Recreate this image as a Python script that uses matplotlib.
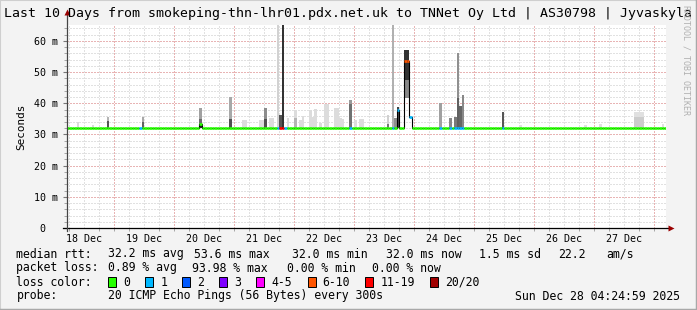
import matplotlib
matplotlib.use("Agg")
import matplotlib.pyplot as plt
from matplotlib.patches import Rectangle
from matplotlib.collections import LineCollection
from matplotlib.lines import Line2D
import numpy as np
import pandas as pd

# ---------------- data ----------------
title = "Last 10 Days from smokeping-thn-lhr01.pdx.net.uk to TNNet Oy Ltd | AS30798 | Jyvaskyla"
origin = pd.Timestamp("2025-12-19 00:00")
view_start = "2025-12-18 04:50"
view_end = "2025-12-28 04:25"
day_labels = ["18 Dec", "19 Dec", "20 Dec", "21 Dec", "22 Dec", "23 Dec", "24 Dec", "25 Dec", "26 Dec", "27 Dec"]
day_label_times = ["2025-12-18 12:00", "2025-12-19 12:00", "2025-12-20 12:00", "2025-12-21 12:00",
                   "2025-12-22 12:00", "2025-12-23 12:00", "2025-12-24 12:00", "2025-12-25 12:00",
                   "2025-12-26 12:00", "2025-12-27 12:00"]
y_ticks = [0, 10, 20, 30, 40, 50, 60]
y_tick_labels = ["0  ", "10 m", "20 m", "30 m", "40 m", "50 m", "60 m"]
y_max = 65.1

# smoke (ping spread) bars: start time, length in hours, low, high (ms), shade
smoke_time = ["2025-12-18 09:00", "2025-12-18 15:00", "2025-12-18 21:00", "2025-12-18 21:00",
              "2025-12-19 11:00", "2025-12-19 11:00", "2025-12-20 10:00", "2025-12-20 10:00",
              "2025-12-20 10:00", "2025-12-20 22:00", "2025-12-20 22:00", "2025-12-21 03:00",
              "2025-12-21 10:00", "2025-12-21 12:00", "2025-12-21 12:00", "2025-12-21 14:00",
              "2025-12-21 17:00", "2025-12-21 18:00", "2025-12-21 19:00", "2025-12-21 21:00",
              "2025-12-22 00:00", "2025-12-22 00:00", "2025-12-22 02:00", "2025-12-22 03:00",
              "2025-12-22 06:00", "2025-12-22 07:00", "2025-12-22 08:00", "2025-12-22 10:00",
              "2025-12-22 12:00", "2025-12-22 16:00", "2025-12-22 18:00", "2025-12-22 19:00",
              "2025-12-22 22:00", "2025-12-22 22:00", "2025-12-23 00:00", "2025-12-23 02:00",
              "2025-12-23 13:00", "2025-12-23 13:00", "2025-12-23 15:00", "2025-12-23 16:00",
              "2025-12-23 17:00", "2025-12-23 20:00", "2025-12-23 20:00", "2025-12-24 10:00",
              "2025-12-24 14:00", "2025-12-24 16:00", "2025-12-24 17:00", "2025-12-24 17:00",
              "2025-12-24 18:00", "2025-12-24 19:00", "2025-12-25 11:00", "2025-12-25 18:00",
              "2025-12-26 20:00", "2025-12-27 02:00", "2025-12-27 16:00", "2025-12-27 16:00",
              "2025-12-28 03:00"]
smoke_hours = [1, 1, 1, 1,
               1, 1, 1, 1,
               1, 1, 1, 2,
               2, 1, 1, 2,
               1, 1, 1, 1,
               1, 1, 1, 1,
               1, 1, 1, 1,
               2, 2, 1, 1,
               1, 1, 1, 2,
               1, 1, 1, 1,
               1, 2, 2, 1,
               1, 1, 1, 1,
               1, 1, 1, 1,
               1, 1, 4, 4,
               1]
smoke_low = [32.0, 32.0, 32.0, 32.0,
             32.0, 32.0, 32.0, 32.0,
             32.0, 32.0, 32.0, 32.0,
             32.0, 32.0, 32.0, 32.0,
             32.0, 32.0, 32.0, 32.0,
             32.0, 32.0, 32.0, 32.0,
             32.0, 32.0, 32.0, 32.0,
             32.0, 32.0, 32.0, 32.0,
             32.0, 32.0, 32.0, 32.0,
             32.0, 32.0, 32.0, 32.0,
             32.0, 41.7, 47.5, 32.0,
             32.0, 32.0, 32.0, 32.0,
             32.0, 32.0, 32.0, 32.0,
             32.0, 32.0, 32.0, 32.0,
             32.0]
smoke_high = [34.0, 32.9, 35.7, 34.2,
              35.7, 34.0, 38.5, 35.0,
              33.2, 41.9, 35.0, 34.6,
              34.5, 38.4, 35.0, 35.4,
              66.0, 36.3, 66.0, 35.2,
              37.9, 35.4, 34.6, 35.8,
              37.9, 35.6, 38.2, 33.6,
              39.8, 38.4, 35.3, 34.9,
              41.1, 39.8, 34.6, 35.0,
              36.3, 33.4, 66.0, 35.2,
              38.7, 47.5, 57.1, 40.0,
              35.3, 35.6, 56.0, 41.7,
              39.1, 42.7, 37.1, 33.0,
              33.0, 33.2, 37.3, 35.6,
              33.4]
smoke_shade = ["#dadada", "#dadada", "#b4b4b4", "#555555",
               "#a8a8a8", "#606060", "#a0a0a0", "#6a6a6a",
               "#222222", "#a8a8a8", "#505050", "#dcdcdc",
               "#dcdcdc", "#8c8c8c", "#505050", "#dcdcdc",
               "#d2d2d2", "#555555", "#333333", "#dcdcdc",
               "#dcdcdc", "#b4b4b4", "#dcdcdc", "#dcdcdc",
               "#dcdcdc", "#dcdcdc", "#dcdcdc", "#dcdcdc",
               "#dcdcdc", "#dcdcdc", "#dcdcdc", "#dcdcdc",
               "#9a9a9a", "#707070", "#dcdcdc", "#dcdcdc",
               "#d0d0d0", "#777777", "#b0b0b0", "#909090",
               "#444444", "#888888", "#333333", "#a0a0a0",
               "#888888", "#7a7a7a", "#909090", "#606060",
               "#666666", "#888888", "#555555", "#e0e0e0",
               "#e0e0e0", "#e0e0e0", "#e0e0e0", "#cccccc",
               "#e0e0e0"]

# median rtt: flat level plus the hours where it (or its loss class) differs
median_level = 32.0
bins_first = "2025-12-18 04:00"
bins_last = "2025-12-28 04:00"
event_time = ["2025-12-19 10:00", "2025-12-20 10:00", "2025-12-21 17:00", "2025-12-21 18:00",
              "2025-12-21 19:00", "2025-12-21 20:00", "2025-12-22 22:00", "2025-12-23 15:00",
              "2025-12-23 17:00", "2025-12-23 20:00", "2025-12-23 21:00", "2025-12-23 22:00",
              "2025-12-24 10:00", "2025-12-24 14:00", "2025-12-24 16:00", "2025-12-24 17:00",
              "2025-12-24 18:00", "2025-12-24 19:00", "2025-12-25 11:00"]
event_median = [32.0, 33.2, 32.0, 32.0,
                32.0, 32.0, 32.0, 32.0,
                37.7, 53.6, 53.6, 35.5,
                32.0, 32.0, 32.0, 32.0,
                32.0, 32.0, 32.0]
event_loss = [1, 0, 1, 6,
              6, 1, 1, 1,
              1, 5, 5, 1,
              1, 1, 1, 1,
              1, 1, 1]

loss_labels = ["0", "1", "2", "3", "4-5", "6-10", "11-19", "20/20"]
loss_colors = ["#26ff00", "#00b8ff", "#0059ff", "#7e00ff", "#ff00ff", "#ff5500", "#ff0000", "#a10000"]

stat_rtt = ["32.2 ms avg", "53.6 ms max", "32.0 ms min", "32.0 ms now", "1.5 ms sd", "22.2", "am/s"]
stat_loss = ["0.89 % avg", "93.98 % max", "0.00 % min", "0.00 % now"]
probe_text = "20 ICMP Echo Pings (56 Bytes) every 300s"
stamp_text = "Sun Dec 28 04:24:59 2025"


def hrs(t):
    return (pd.Timestamp(t) - origin) / pd.Timedelta(hours=1)


# ---------------- figure ----------------
W, H = 697, 310
BG = "#f3f3f3"
MONO = "DejaVu Sans Mono"
fig = plt.figure(figsize=(W / 100, H / 100), dpi=100, facecolor=BG)


def fx(px):
    return px / W


def fy(py):
    return 1 - py / H


ax_l, ax_r, ax_t, ax_b = 66.5, 665.5, 25, 228
ax = fig.add_axes([fx(ax_l), fy(ax_b), (ax_r - ax_l) / W, (ax_b - ax_t) / H])
ax.set_facecolor("white")

x0, x1 = hrs(view_start), hrs(view_end)
ax.set_xlim(x0, x1)
ax.set_ylim(0, y_max)

# grid
minor_x = np.arange(np.ceil(x0 / 6) * 6, x1, 6)
major_x = np.arange(np.ceil(x0 / 24) * 24, x1, 24)
minor_y = np.arange(2, y_max, 2)
major_y = np.array(y_ticks[1:])
dot = (0, (1, 2))
for v in minor_x:
    ax.axvline(v, color="#c4c4c4", lw=0.72, ls=dot, zorder=0.5)
for v in minor_y:
    ax.axhline(v, color="#c4c4c4", lw=0.72, ls=dot, zorder=0.5)
for v in major_x:
    ax.axvline(v, color="#f08888", lw=0.72, ls=dot, zorder=0.6)
for v in major_y:
    ax.axhline(v, color="#f08888", lw=0.72, ls=dot, zorder=0.6)

# smoke
sx = [hrs(t) for t in smoke_time]
ax.bar(sx, np.array(smoke_high) - np.array(smoke_low), bottom=smoke_low, width=smoke_hours,
       align="edge", color=smoke_shade, linewidth=0, zorder=2)

# median series
bin_idx = pd.date_range(bins_first, bins_last, freq="h")
bx = np.array([hrs(t) for t in bin_idx])
med = np.full(len(bx), median_level)
loss = np.zeros(len(bx), dtype=int)
for t, m, l in zip(event_time, event_median, event_loss):
    i = int(np.argmin(np.abs(bx - hrs(t))))
    med[i] = m
    loss[i] = l

xs = np.repeat(bx, 2)
xs[1::2] += 1
ys = np.repeat(med, 2)
ax.plot(xs, ys, color="#000000", lw=0.8, zorder=3, solid_capstyle="butt")
segs = [[(b, m), (b + 1, m)] for b, m in zip(bx, med)]
lc = LineCollection(segs, colors=[loss_colors[l] for l in loss], linewidths=1.9, zorder=4,
                    capstyle="butt")
ax.add_collection(lc)

# axes styling
for s in ["top", "right", "left", "bottom"]:
    ax.spines[s].set_visible(False)
ax.set_xticks([hrs(t) for t in day_label_times])
ax.set_xticklabels(day_labels, fontfamily=MONO, fontsize=7.2)
ax.set_xticks(minor_x, minor=True)
ax.set_yticks(y_ticks)
ax.set_yticklabels(y_tick_labels, fontfamily=MONO, fontsize=7.2)
ax.set_yticks(minor_y, minor=True)
ax.tick_params(axis="x", which="major", length=0, pad=4)
ax.tick_params(axis="x", which="minor", length=2, color="#999999")
ax.tick_params(axis="y", which="major", length=3, color="#777777", pad=3)
ax.tick_params(axis="y", which="minor", length=2, color="#999999")
ax.set_ylabel("Seconds", fontfamily=MONO, fontsize=7.9, labelpad=6)

# axis lines with arrows
tr = ax.transAxes
ax.add_line(Line2D([-4 / 599, 1 + 3 / 599], [0, 0], transform=tr, color="#000000", lw=0.9,
                   clip_on=False, zorder=6))
ax.add_line(Line2D([0, 0], [-3 / 203, 1 + 11 / 203], transform=tr, color="#444444", lw=0.9,
                   clip_on=False, zorder=6))
ax.plot([1 + 5 / 599], [0], marker=">", ms=4.5, color="#9a0000", transform=tr, clip_on=False,
        zorder=7, mec="none")
ax.plot([0], [1 + 13 / 203], marker="^", ms=4.5, color="#9a0000", transform=tr, clip_on=False,
        zorder=7, mec="none")

# title
fig.text(fx(348.5), fy(13), title, ha="center", va="center", fontfamily=MONO, fontsize=9.55)
fig.text(fx(686), fy(5), "RRDTOOL / TOBI OETIKER", rotation=270, ha="center", va="top",
         fontfamily=MONO, fontsize=6.0, color="#b0b0b0")

# legend area
LF = 8.3
row_y = [254, 268, 282, 296]
fig.text(fx(16.4), fy(row_y[0]), "median rtt:", va="center", fontfamily=MONO, fontsize=LF)
for s, px in zip(stat_rtt, [107.6, 194.2, 292.4, 385.8, 479.1, 557.8, 606.7]):
    fig.text(fx(px), fy(row_y[0]), s, va="center", fontfamily=MONO, fontsize=LF)
fig.text(fx(16.4), fy(row_y[1]), "packet loss:", va="center", fontfamily=MONO, fontsize=LF)
for s, px in zip(stat_loss, [107.6, 192.4, 286.7, 372.4]):
    fig.text(fx(px), fy(row_y[1]), s, va="center", fontfamily=MONO, fontsize=LF)
fig.text(fx(16.4), fy(row_y[2]), "loss color:", va="center", fontfamily=MONO, fontsize=LF)
box_px = [108, 145.3, 182.2, 219, 256.4, 307.6, 365.3, 430.2]
for lab, col, px in zip(loss_labels, loss_colors, box_px):
    fig.patches.append(Rectangle((fx(px), fy(row_y[2] + 5)), 8 / W, 10 / H, transform=fig.transFigure,
                                 facecolor=col, edgecolor="black", lw=0.7))
    fig.text(fx(px + 15), fy(row_y[2]), lab, va="center", fontfamily=MONO, fontsize=LF)
fig.text(fx(16.4), fy(row_y[3]), "probe:", va="center", fontfamily=MONO, fontsize=LF)
fig.text(fx(107.6), fy(row_y[3]), probe_text, va="center", fontfamily=MONO, fontsize=LF)
fig.text(fx(680), fy(row_y[3]), stamp_text, va="center", ha="right", fontfamily=MONO, fontsize=LF)

# frame
fig.add_artist(Line2D([0, 0], [0, 1], transform=fig.transFigure, color="#cfcfcf", lw=1.5))
fig.add_artist(Line2D([0, 1], [1, 1], transform=fig.transFigure, color="#cfcfcf", lw=1.5))
fig.add_artist(Line2D([1, 1], [0, 1], transform=fig.transFigure, color="#a8a8a8", lw=2.5))
fig.add_artist(Line2D([0, 1], [0, 0], transform=fig.transFigure, color="#a8a8a8", lw=2.5))

fig.savefig("out.png", dpi=100, facecolor=BG)
